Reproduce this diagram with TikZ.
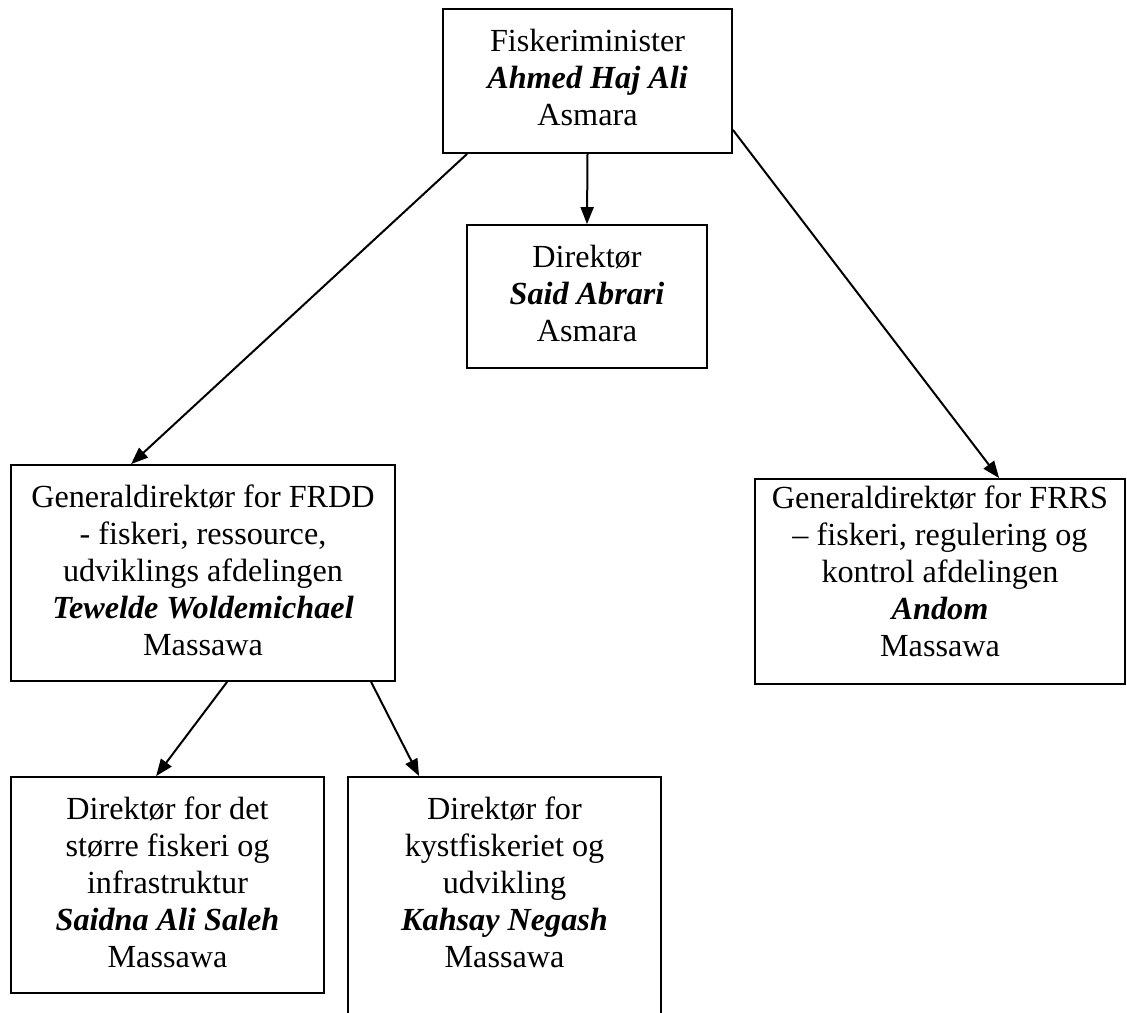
\documentclass[tikz,border=0pt]{standalone}
\usepackage{fontspec}
\setmainfont{Liberation Serif}
\usetikzlibrary{arrows.meta}
\newcommand{\navn}[1]{\textbf{\textit{#1}}}
\begin{document}
\begin{tikzpicture}[x=1pt, y=-1pt,
  boks/.style={draw, line width=1.8pt, inner sep=0pt},
  tekst/.style={align=center, inner sep=0pt, anchor=north, yshift=-21pt,
    font=\fontsize{32.2}{37}\selectfont},
  pil/.style={line width=2pt, -{Triangle[length=17pt,width=13pt]}}]
  \useasboundingbox (0,0) rectangle (1127,1012);

  % Boxes
  \node[boks, minimum width=289pt, minimum height=144pt] (minister) at (587.5,81) {};
  \node[boks, minimum width=240pt, minimum height=143pt] (direktor) at (587,296.5) {};
  \node[boks, minimum width=384pt, minimum height=216pt] (frdd) at (203,573) {};
  \node[boks, minimum width=370pt, minimum height=205pt] (frrs) at (940,581.5) {};
  \node[boks, minimum width=313pt, minimum height=216pt] (storre) at (167.5,885) {};
  \node[boks, minimum width=313pt, minimum height=263pt] (kyst) at (504.5,908.5) {};

  % Texts
  \node[tekst] (ministertxt) at (minister.north) {Fiskeriminister\\ \navn{Ahmed Haj Ali}\\ Asmara};
  \node[tekst] (direktortxt) at (direktor.north) {Direktør\\ \navn{Said Abrari}\\ Asmara};
  \node[tekst] (frddtxt) at (frdd.north) {Generaldirektør for FRDD\\ - fiskeri, ressource,\\ udviklings afdelingen\\ \navn{Tewelde Woldemichael}\\ Massawa};
  \node[tekst, yshift=13pt] (frrstxt) at (frrs.north) {Generaldirektør for FRRS\\ – fiskeri, regulering og\\ kontrol afdelingen\\ \navn{Andom}\\ Massawa};
  \node[tekst] (storretxt) at (storre.north) {Direktør for det\\ større fiskeri og\\ infrastruktur\\ \navn{Saidna Ali Saleh}\\ Massawa};
  \node[tekst] (kysttxt) at (kyst.north) {Direktør for\\ kystfiskeriet og\\ udvikling\\ \navn{Kahsay Negash}\\ Massawa};

  % Arrows
  \draw[pil] (minister.south) -- (direktor.north);
  \draw[pil] ([xshift=25pt]minister.south west) -- ([xshift=121pt]frdd.north west);
  \draw[pil] ([yshift=24pt]minister.south east) -- ([xshift=245pt]frrs.north west);
  \draw[pil] ([xshift=217pt]frdd.south west) -- ([xshift=146pt]storre.north west);
  \draw[pil] ([xshift=361pt]frdd.south west) -- ([xshift=72pt]kyst.north west);
\end{tikzpicture}
\end{document}
